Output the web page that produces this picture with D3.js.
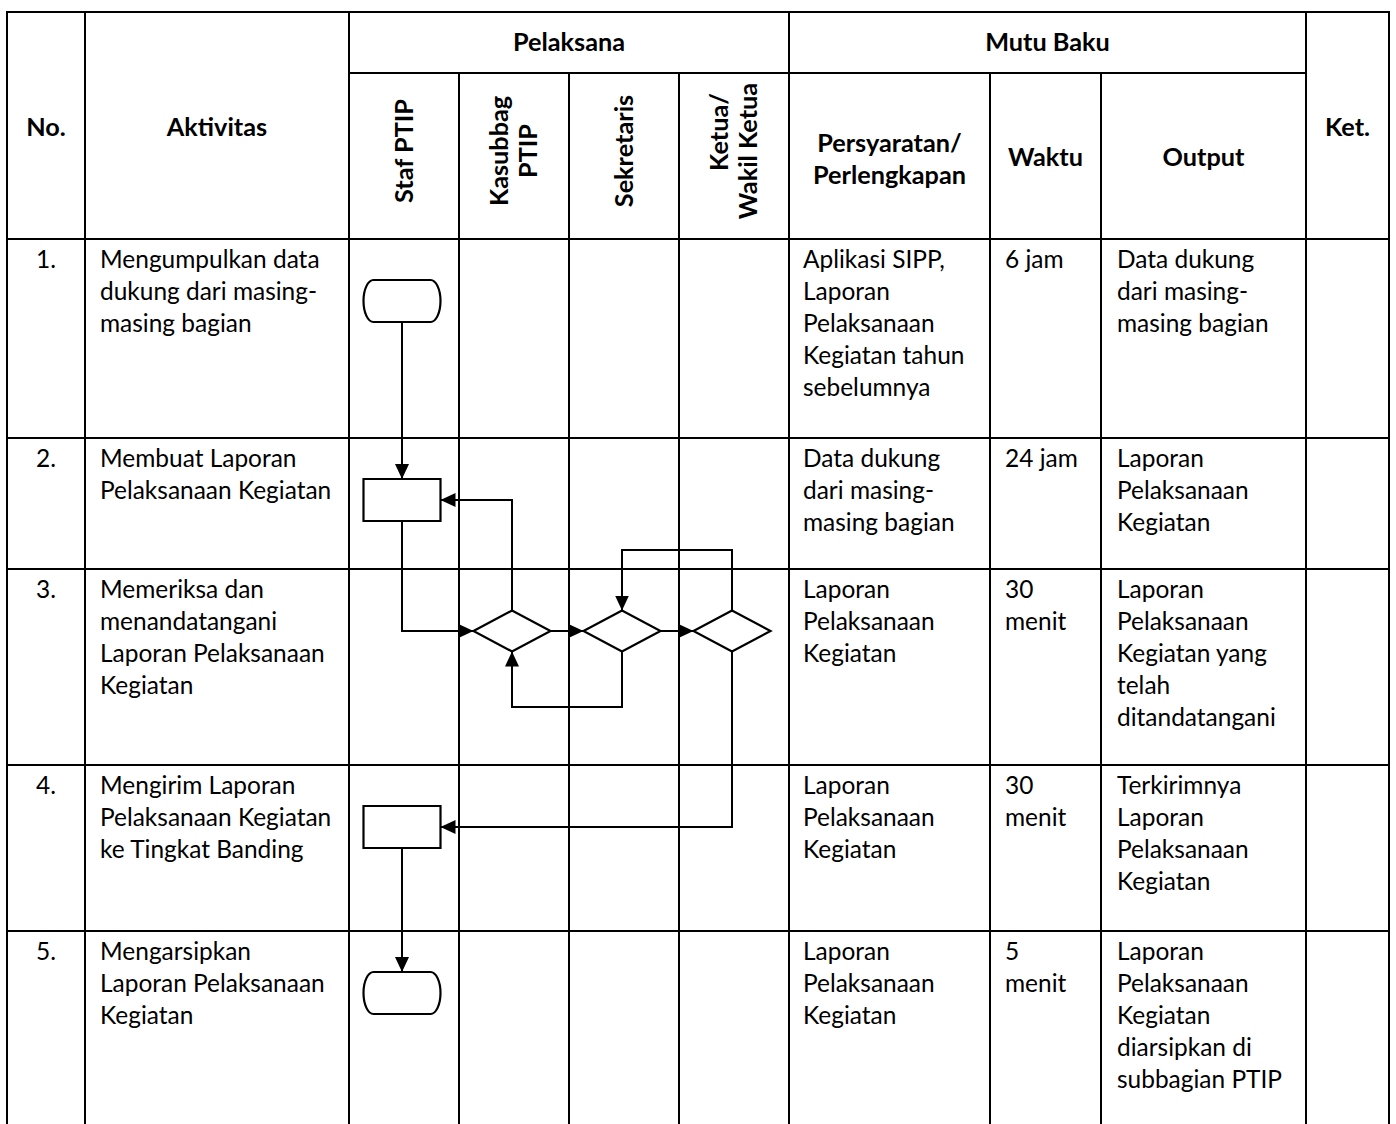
<!DOCTYPE html>
<html>
<head>
<meta charset="utf-8">
<script src="https://cdn.jsdelivr.net/npm/d3@7"></script>
<style>
  html, body { margin: 0; padding: 0; background: #fff; }
  svg { display: block; }
</style>
</head>
<body>
<script>
// ---------------- DATA ----------------
const lanes = ["Staf PTIP", "Kasubbag PTIP", "Sekretaris", "Ketua/Wakil Ketua"];
const laneLabels = [["Staf PTIP"], ["Kasubbag", "PTIP"], ["Sekretaris"], ["Ketua/", "Wakil Ketua"]];
const rowIds = ["1.", "2.", "3.", "4.", "5."];
const aktivitas = [
  ["Mengumpulkan data", "dukung dari masing-", "masing bagian"],
  ["Membuat Laporan", "Pelaksanaan Kegiatan"],
  ["Memeriksa dan", "menandatangani", "Laporan Pelaksanaan", "Kegiatan"],
  ["Mengirim Laporan", "Pelaksanaan Kegiatan", "ke Tingkat Banding"],
  ["Mengarsipkan", "Laporan Pelaksanaan", "Kegiatan"]
];
const persyaratan = [
  ["Aplikasi SIPP,", "Laporan", "Pelaksanaan", "Kegiatan tahun", "sebelumnya"],
  ["Data dukung", "dari masing-", "masing bagian"],
  ["Laporan", "Pelaksanaan", "Kegiatan"],
  ["Laporan", "Pelaksanaan", "Kegiatan"],
  ["Laporan", "Pelaksanaan", "Kegiatan"]
];
const waktu = [["6 jam"], ["24 jam"], ["30", "menit"], ["30", "menit"], ["5", "menit"]];
const output = [
  ["Data dukung", "dari masing-", "masing bagian"],
  ["Laporan", "Pelaksanaan", "Kegiatan"],
  ["Laporan", "Pelaksanaan", "Kegiatan yang", "telah", "ditandatangani"],
  ["Terkirimnya", "Laporan", "Pelaksanaan", "Kegiatan"],
  ["Laporan", "Pelaksanaan", "Kegiatan", "diarsipkan di", "subbagian PTIP"]
];
// flowchart nodes: row index, lane, shape
const nodes = [
  { id: "n1", row: "1.", lane: "Staf PTIP", shape: "terminator" },
  { id: "n2", row: "2.", lane: "Staf PTIP", shape: "process" },
  { id: "d1", row: "3.", lane: "Kasubbag PTIP", shape: "decision" },
  { id: "d2", row: "3.", lane: "Sekretaris", shape: "decision" },
  { id: "d3", row: "3.", lane: "Ketua/Wakil Ketua", shape: "decision" },
  { id: "n4", row: "4.", lane: "Staf PTIP", shape: "process" },
  { id: "n5", row: "5.", lane: "Staf PTIP", shape: "terminator" }
];
// edges: from, to, route type
const edges = [
  { from: "n1", to: "n2", route: "down" },
  { from: "n2", to: "d1", route: "downRight" },
  { from: "d1", to: "n2", route: "upLeft" },
  { from: "d1", to: "d2", route: "right" },
  { from: "d2", to: "d1", route: "loopBelow" },
  { from: "d2", to: "d3", route: "right" },
  { from: "d3", to: "d2", route: "loopAbove" },
  { from: "d3", to: "n4", route: "downLeft" },
  { from: "n4", to: "n5", route: "down" }
];

// ---------------- LAYOUT ----------------
const W = 1396, H = 1124;
const FONT = "Lato, 'Open Sans', 'Noto Sans', sans-serif";
const colX = { left: 7, no: 85, akt: 349, lanesEnd: 789, pers: 990, wkt: 1101, out: 1306, right: 1389 };
const yTop = 12, ySub = 73, yHead = 239;
const rowTops = [239, 438, 569, 765, 931];
const yBottom = 1124;
const lineH = 32;

const svg = d3.select("body").append("svg").attr("width", W).attr("height", H)
  .style("background", "#fff");

const xLane = d3.scaleBand().domain(lanes).range([colX.akt, colX.lanesEnd]).paddingInner(0);
const yRow = d3.scaleOrdinal().domain(rowIds).range(rowTops);

// fit font size of fallback font to reference text widths
function fit(str, weight, target) {
  const t = svg.append("text").attr("font-family", FONT).attr("font-weight", weight)
    .attr("font-size", 100).text(str);
  const w = t.node().getComputedTextLength();
  t.remove();
  return 100 * target / w;
}
const bodySize = (fit("Mengumpulkan data", 400, 218) + fit("Pelaksanaan Kegiatan", 400, 233)) / 2;
const headSize = fit("Perlengkapan", 700, 153);

// ---------------- TABLE GRID ----------------
const grid = svg.append("g").attr("stroke", "#000").attr("stroke-width", 2).attr("fill", "none");
function hline(x1, x2, y) { grid.append("line").attr("x1", x1).attr("x2", x2).attr("y1", y).attr("y2", y); }
function vline(x, y1, y2) { grid.append("line").attr("x1", x).attr("x2", x).attr("y1", y1).attr("y2", y2); }

hline(colX.left - 1, colX.right + 1, yTop);
hline(colX.akt, colX.out, ySub);
hline(colX.left, colX.right, yHead);
rowTops.slice(1).forEach(y => hline(colX.left, colX.right, y));

[colX.left, colX.no, colX.akt, colX.lanesEnd, colX.out, colX.right].forEach(x => vline(x, yTop, yBottom));
lanes.slice(1).forEach(l => vline(xLane(l), ySub, yBottom));
[colX.pers, colX.wkt].forEach(x => vline(x, ySub, yBottom));

// ---------------- HEADER TEXT ----------------
const head = svg.append("g").attr("font-family", FONT).attr("font-weight", 700)
  .attr("font-size", headSize).attr("fill", "#000").attr("text-anchor", "middle");
head.append("text").attr("x", (colX.left + colX.no) / 2).attr("y", 136).text("No.");
head.append("text").attr("x", (colX.no + colX.akt) / 2).attr("y", 136).text("Aktivitas");
head.append("text").attr("x", (colX.akt + colX.lanesEnd) / 2).attr("y", 51).text("Pelaksana");
head.append("text").attr("x", (colX.lanesEnd + colX.out) / 2).attr("y", 51).text("Mutu Baku");
head.append("text").attr("x", (colX.out + colX.right) / 2).attr("y", 136).text("Ket.");
head.append("text").attr("x", (colX.lanesEnd + colX.pers) / 2).attr("y", 152).text("Persyaratan/");
head.append("text").attr("x", (colX.lanesEnd + colX.pers) / 2).attr("y", 184).text("Perlengkapan");
head.append("text").attr("x", (colX.pers + colX.wkt) / 2).attr("y", 166).text("Waktu");
head.append("text").attr("x", (colX.wkt + colX.out) / 2).attr("y", 166).text("Output");

// rotated lane labels
const capOff = headSize * 0.35;
lanes.forEach((l, i) => {
  const labels = laneLabels[i];
  const cx = xLane(l) + xLane.bandwidth() / 2;
  const gap = 29;
  labels.forEach((txt, j) => {
    const vx = cx + (j - (labels.length - 1) / 2) * gap;
    const isKetuaFirst = (labels.length === 2 && txt === "Ketua/");
    head.append("text")
      .attr("transform", `translate(${vx + capOff},${isKetuaFirst ? 93 : 151}) rotate(-90)`)
      .attr("text-anchor", isKetuaFirst ? "end" : "middle")
      .attr("x", 0).attr("y", 0)
      .text(txt);
  });
});

// ---------------- BODY TEXT ----------------
const body = svg.append("g").attr("font-family", FONT).attr("font-weight", 400)
  .attr("font-size", bodySize).attr("fill", "#000");
function block(lines, x, top, anchor) {
  lines.forEach((t, k) => {
    body.append("text").attr("x", x).attr("y", top + 29 + k * lineH)
      .attr("text-anchor", anchor || "start").text(t);
  });
}
rowIds.forEach((r, i) => {
  const top = yRow(r);
  block([r], (colX.left + colX.no) / 2, top, "middle");
  block(aktivitas[i], colX.no + 15, top);
  block(persyaratan[i], colX.lanesEnd + 14, top);
  block(waktu[i], colX.pers + 15, top);
  block(output[i], colX.wkt + 16, top);
});

// ---------------- FLOWCHART ----------------
const shapeW = 77, shapeH = 42, diaH = 41, nodeOffY = 62;
const pos = {};
nodes.forEach(n => {
  const cx = xLane(n.lane) + xLane.bandwidth() / 2 - 2;
  const cy = yRow(n.row) + nodeOffY;
  const h = n.shape === "decision" ? diaH : shapeH;
  pos[n.id] = { cx, cy, l: cx - shapeW / 2, r: cx + shapeW / 2, t: cy - h / 2, b: cy + h / 2, n };
});

const defs = svg.append("defs");
defs.append("marker").attr("id", "arr").attr("markerUnits", "userSpaceOnUse")
  .attr("markerWidth", 15).attr("markerHeight", 14).attr("refX", 15).attr("refY", 7)
  .attr("orient", "auto")
  .append("path").attr("d", "M0,0 L15,7 L0,14 Z").attr("fill", "#000");

const flow = svg.append("g");
const lineGen = d3.line();
edges.forEach(e => {
  const a = pos[e.from], b = pos[e.to];
  let pts;
  switch (e.route) {
    case "down": pts = [[a.cx, a.b], [b.cx, b.t]]; break;
    case "downRight": pts = [[a.cx, a.b], [a.cx, b.cy], [b.l, b.cy]]; break;
    case "upLeft": pts = [[a.cx, a.t], [a.cx, b.cy], [b.r, b.cy]]; break;
    case "right": pts = [[a.r, a.cy], [b.l, b.cy]]; break;
    case "loopBelow": { const yl = a.cy + 76; pts = [[a.cx, a.b], [a.cx, yl], [b.cx, yl], [b.cx, b.b]]; break; }
    case "loopAbove": { const yl = yRow(a.n.row) - 19; pts = [[a.cx, a.t], [a.cx, yl], [b.cx, yl], [b.cx, b.t]]; break; }
    case "downLeft": pts = [[a.cx, a.b], [a.cx, b.cy], [b.r, b.cy]]; break;
  }
  flow.append("path").attr("d", lineGen(pts)).attr("fill", "none")
    .attr("stroke", "#000").attr("stroke-width", 2).attr("marker-end", "url(#arr)");
});

nodes.forEach(n => {
  const p = pos[n.id];
  let d;
  if (n.shape === "terminator") {
    const r = 10, hh = (p.b - p.t) / 2;
    d = `M${p.l + r},${p.t} H${p.r - r} A${r},${hh} 0 0 1 ${p.r - r},${p.b} H${p.l + r} A${r},${hh} 0 0 1 ${p.l + r},${p.t} Z`;
  } else if (n.shape === "process") {
    d = `M${p.l},${p.t} H${p.r} V${p.b} H${p.l} Z`;
  } else {
    d = `M${p.l},${p.cy} L${p.cx},${p.t} L${p.r},${p.cy} L${p.cx},${p.b} Z`;
  }
  flow.append("path").attr("d", d).attr("fill", "#fff").attr("stroke", "#000").attr("stroke-width", 2.2);
});
</script>
</body>
</html>
